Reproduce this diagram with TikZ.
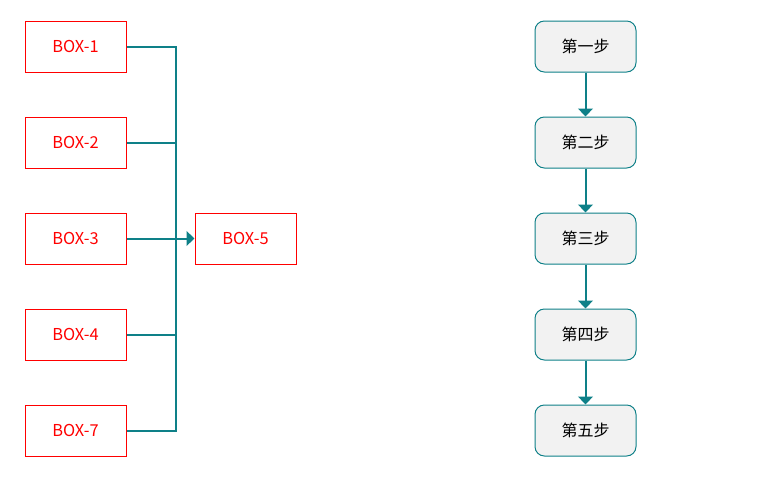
\documentclass[tikz,border=0pt]{standalone}
\usepackage{fontspec}
\setmainfont{Noto Sans CJK SC}
\usetikzlibrary{arrows.meta}
\definecolor{lineteal}{RGB}{14,128,136}
\definecolor{stepfill}{RGB}{242,242,242}

\begin{document}
\begin{tikzpicture}[x=0.75pt,y=-0.75pt,
        redbox/.style={draw=red, line width=0.75pt, text=red, minimum width=75.75pt, minimum height=38.25pt, inner sep=0pt, font=\fontsize{12.3}{14}\selectfont},
        stepbox/.style={draw=lineteal, fill=stepfill, line width=0.75pt, rounded corners=7pt, minimum width=75.75pt, minimum height=38.25pt, inner sep=0pt, font=\fontsize{12}{14}\selectfont},
        bus/.style={draw=lineteal, line width=1.5pt},
        flow/.style={bus, -{Triangle[length=6pt, width=11pt]}}]
        \useasboundingbox (0,0) rectangle (779,482);

        \node[redbox] (b1) at (75.5,46.5) {BOX-1};
        \node[redbox] (b2) at (75.5,142.5) {BOX-2};
        \node[redbox] (b3) at (75.5,238.5) {BOX-3};
        \node[redbox] (b4) at (75.5,334.5) {BOX-4};
        \node[redbox] (b7) at (75.5,430.5) {BOX-7};
        \node[redbox] (b5) at (245.5,238.5) {BOX-5};
        \coordinate (j) at (176,238.5);

        \draw[bus] (b1.east) -| (j);
        \draw[bus] (b2.east) -| (j);
        \draw[bus] (b4.east) -| (j);
        \draw[bus] (b7.east) -| (j);
        \draw[flow] (b3.east) -- (b5.west);

        \node[stepbox] (s1) at (585.5,46.5) {第一步};
        \node[stepbox] (s2) at (585.5,142.5) {第二步};
        \node[stepbox] (s3) at (585.5,238.5) {第三步};
        \node[stepbox] (s4) at (585.5,334.5) {第四步};
        \node[stepbox] (s5) at (585.5,430.5) {第五步};

        \foreach \a/\b in {s1/s2, s2/s3, s3/s4, s4/s5}
            \draw[flow] (\a.south) -- (\b.north);
    \end{tikzpicture}
\end{document}
